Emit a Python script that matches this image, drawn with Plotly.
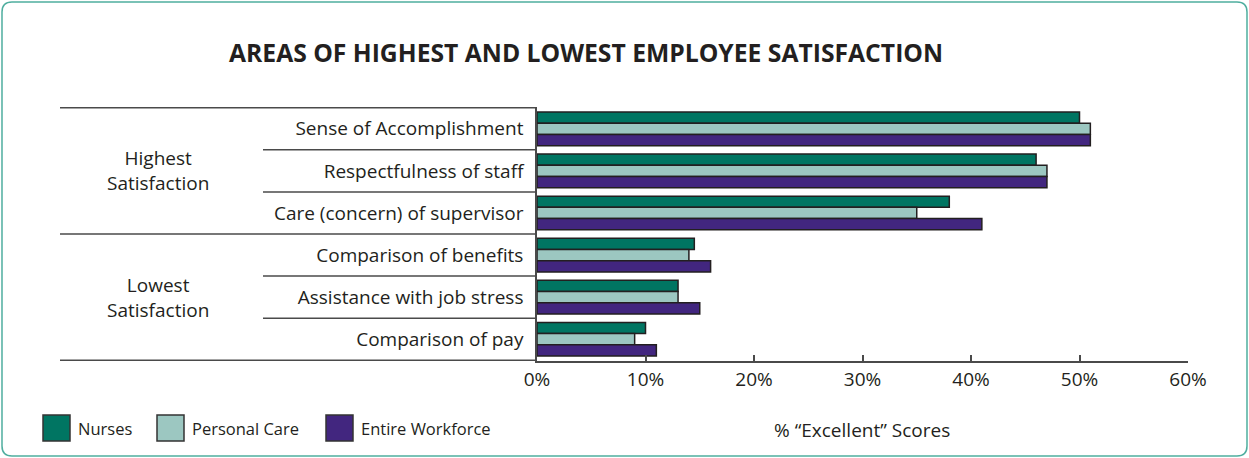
import plotly.graph_objects as go

# Survey items, top to bottom
categories = [
    "Sense of Accomplishment",
    "Respectfulness of staff",
    "Care (concern) of supervisor",
    "Comparison of benefits",
    "Assistance with job stress",
    "Comparison of pay",
]
groups = ["Highest<br>Satisfaction", "Lowest<br>Satisfaction"]

series_names = ["Nurses", "Personal Care", "Entire Workforce"]
nurses = [50, 46, 38, 14.5, 13, 10]
personal_care = [51, 47, 35, 14, 13, 9]
entire_workforce = [51, 47, 41, 16, 15, 11]
series_values = [nurses, personal_care, entire_workforce]
series_colors = ["#007562", "#9cc7c1", "#42267f"]

x_ticks = [0, 10, 20, 30, 40, 50, 60]
x_tick_labels = [f"{t}%" for t in x_ticks]

W, H = 1249, 458
FONT = "Open Sans"
TXT = "#231f20"
LINE = "#4a4a4a"

fig = go.Figure()
for name, vals, col in zip(series_names, series_values, series_colors):
    fig.add_trace(go.Bar(
        name=name, y=categories, x=vals, orientation="h",
        marker=dict(color=col, line=dict(color="#231f20", width=1.5)),
        showlegend=False,
    ))

# plot area in pixels
px0, px1 = 537, 1188
py_top, py_bot = 107, 361
xd = [px0 / W, px1 / W]
yd = [1 - py_bot / H, 1 - py_top / H]

fig.update_layout(
    width=W, height=H,
    margin=dict(l=0, r=0, t=0, b=0, autoexpand=False),
    paper_bgcolor="white", plot_bgcolor="white",
    barmode="group", bargap=0.2, bargroupgap=0,
    font=dict(family=FONT, color=TXT, size=16),
    xaxis=dict(
        domain=xd, range=[0, 60], tickvals=x_ticks, ticktext=x_tick_labels,
        automargin=False,
        showgrid=False, zeroline=False, showline=True, linecolor=LINE, linewidth=1.5,
        ticks="inside", ticklen=6, tickcolor=LINE, tickwidth=1.5,
        tickfont=dict(size=19, family=FONT, color=TXT),
    ),
    yaxis=dict(
        domain=yd, autorange="reversed", showgrid=False, zeroline=False,
        automargin=False,
        showline=True, linecolor=LINE, linewidth=1.5,
        ticks="outside", ticklen=0, ticklabelstandoff=8,
        tickfont=dict(size=19, family=FONT, color=TXT),
    ),
)

# row separators: full width at group boundaries, short between items
x_full = 60 / W
x_short = 263 / W
for b, full in [(-0.5, True), (0.5, False), (1.5, False), (2.5, True),
                (3.5, False), (4.5, False), (5.5, True)]:
    fig.add_shape(type="line", xref="paper", yref="y",
                  x0=x_full if full else x_short, x1=px0 / W, y0=b, y1=b,
                  line=dict(color=LINE, width=1.5))

# group labels
for g, yc in zip(groups, [1, 4]):
    fig.add_annotation(text=g, xref="paper", yref="y", x=158 / W, y=yc,
                       xanchor="center", yanchor="middle",
                       showarrow=False, align="center",
                       font=dict(size=19, family=FONT, color=TXT))

# title
fig.add_annotation(text="<b>AREAS OF HIGHEST AND LOWEST EMPLOYEE SATISFACTION</b>",
                   xref="paper", yref="paper", x=586 / W, y=1 - 52 / H,
                   xanchor="center", yanchor="middle",
                   showarrow=False, font=dict(size=24.7, family=FONT, color=TXT))

# axis title
fig.add_annotation(text="% \u201cExcellent\u201d Scores", xref="paper", yref="paper",
                   x=862 / W, y=1 - 430 / H, xanchor="center", yanchor="middle",
                   showarrow=False, font=dict(size=19, family=FONT, color=TXT))

# legend swatches and labels
legend_x = [43, 157, 326]
for name, col, lx in zip(series_names, series_colors, legend_x):
    fig.add_shape(type="rect", xref="paper", yref="paper",
                  x0=lx / W, x1=(lx + 27) / W, y0=1 - 441 / H, y1=1 - 415 / H,
                  fillcolor=col, line=dict(color="#333333", width=1.5))
    fig.add_annotation(text=name, xref="paper", yref="paper",
                       x=(lx + 33) / W, y=1 - 428 / H, xanchor="left", yanchor="middle",
                       showarrow=False, font=dict(size=16.5, family=FONT, color=TXT))

# rounded outer frame
r = 10
x0, y0, x1, y1 = 2, 2, 1247, 456
def P(x, y):
    return f"{x / W:.5f},{1 - y / H:.5f}"
path = (f"M {P(x0 + r, y0)} L {P(x1 - r, y0)} Q {P(x1, y0)} {P(x1, y0 + r)} "
        f"L {P(x1, y1 - r)} Q {P(x1, y1)} {P(x1 - r, y1)} "
        f"L {P(x0 + r, y1)} Q {P(x0, y1)} {P(x0, y1 - r)} "
        f"L {P(x0, y0 + r)} Q {P(x0, y0)} {P(x0 + r, y0)} Z")
fig.add_shape(type="path", xref="paper", yref="paper", path=path,
              line=dict(color="#4fae9f", width=1.5), layer="below")

fig.write_html("out.html")
